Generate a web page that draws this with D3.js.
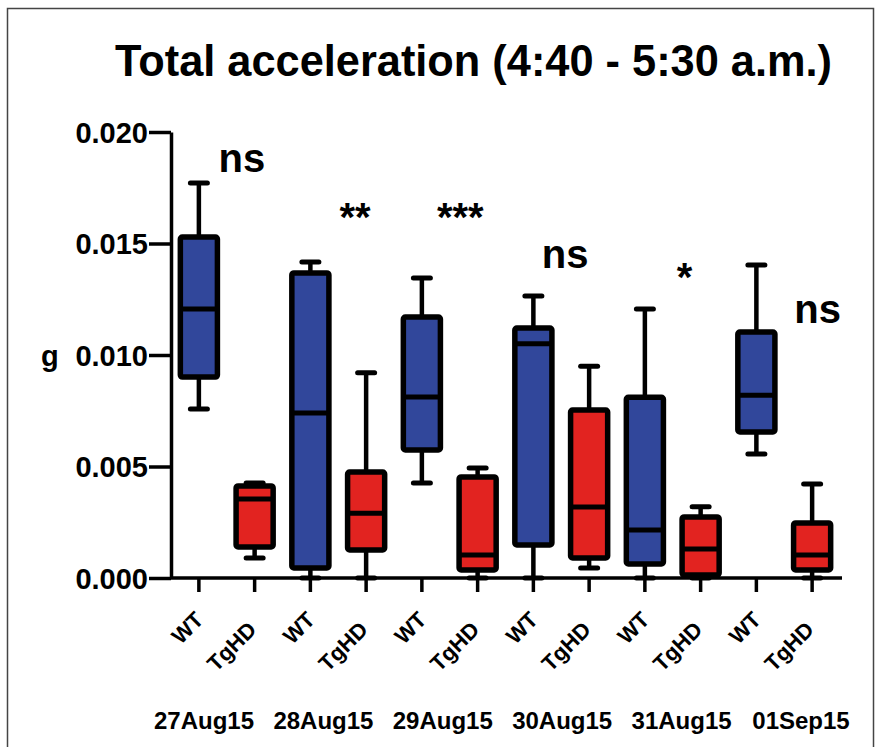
<!DOCTYPE html>
<html>
<head>
<meta charset="utf-8">
<script src="https://cdn.jsdelivr.net/npm/d3@7/dist/d3.min.js"></script>
<style>
  body { margin: 0; background: #fff; }
  svg text { font-family: "Liberation Sans", Arial, sans-serif; font-weight: bold; fill: #000; }
</style>
</head>
<body>
<div id="chart"></div>
<script>
// Days and groups
const dates = ["27Aug15", "28Aug15", "29Aug15", "30Aug15", "31Aug15", "01Sep15"];
const genotypes = ["WT", "TgHD"];

// Box plot summaries (g), one value per day
const wtMin    = [0.00758, 0.0000, 0.00426, 0.0000, 0.0000, 0.00556];
const wtQ1     = [0.00901, 0.00045, 0.00574, 0.00148, 0.00063, 0.00655];
const wtMedian = [0.01206, 0.00740, 0.00812, 0.01050, 0.00215, 0.00820];
const wtQ3     = [0.01529, 0.01368, 0.01170, 0.01121, 0.00810, 0.01103];
const wtMax    = [0.01771, 0.01417, 0.01345, 0.01265, 0.01206, 0.01404];

const tgMin    = [0.00090, 0.0000, 0.0000, 0.00045, 0.0000, 0.0000];
const tgQ1     = [0.00139, 0.00126, 0.00036, 0.00090, 0.00013, 0.00036];
const tgMedian = [0.00354, 0.00290, 0.00103, 0.00318, 0.00130, 0.00103];
const tgQ3     = [0.00413, 0.00475, 0.00453, 0.00753, 0.00274, 0.00247];
const tgMax    = [0.00426, 0.00920, 0.00493, 0.00950, 0.00320, 0.00422];

// Significance marks, their height (g) and slot position along the x axis
const sigLabels = ["ns", "**", "***", "ns", "*", "ns"];
const sigHeights = [0.01821, 0.01556, 0.01556, 0.01390, 0.01287, 0.01143];
const sigSlots = [0.77, 2.8, 4.69, 6.57, 8.71, 11.1];

const yTicks = [0, 0.005, 0.010, 0.015, 0.020];

const colors = { WT: "#31479b", TgHD: "#e22320" };

// build rows
const rows = [];
dates.forEach((d, i) => {
  rows.push({ key: d + "|WT", date: d, geno: "WT", min: wtMin[i], q1: wtQ1[i], med: wtMedian[i], q3: wtQ3[i], max: wtMax[i] });
  rows.push({ key: d + "|TgHD", date: d, geno: "TgHD", min: tgMin[i], q1: tgQ1[i], med: tgMedian[i], q3: tgQ3[i], max: tgMax[i] });
});

const W = 882, H = 747;
const svg = d3.select("#chart").append("svg").attr("width", W).attr("height", H);

// frame
svg.append("rect")
  .attr("x", 7.5).attr("y", 8.5)
  .attr("width", 866).attr("height", 760)
  .attr("fill", "none").attr("stroke", "#444").attr("stroke-width", 1.5);

// title
svg.append("text")
  .attr("x", 115).attr("y", 76)
  .attr("textLength", 717).attr("lengthAdjust", "spacingAndGlyphs")
  .style("font-family", "'Liberation Sans Narrow', 'Liberation Sans', Arial, sans-serif")
  .style("font-size", "45px")
  .text("Total acceleration (4:40 - 5:30 a.m.)");

const y = d3.scaleLinear().domain([0, 0.02]).range([578, 132]);
const x = d3.scaleBand().domain(rows.map(r => r.key)).range([171, 840]).padding(0);
const bw = x.bandwidth();
const boxW = bw * 0.665;
const capW = 17;
const cx = r => x(r.key) + bw / 2;

// y axis
const yAxis = svg.append("g")
  .attr("transform", "translate(171,0)")
  .call(d3.axisLeft(y).tickValues(yTicks).tickFormat(d3.format(".3f")).tickSize(22).tickSizeOuter(0).tickPadding(1));
yAxis.select(".domain").attr("stroke", "#000").attr("stroke-width", 3.5);
yAxis.selectAll(".tick line").attr("stroke", "#000").attr("stroke-width", 3.5);
yAxis.selectAll(".tick text").style("font-size", "29px").attr("dy", "0.36em");

// y axis title
svg.append("text")
  .attr("x", 41).attr("y", 366)
  .style("font-size", "29px")
  .text("g");

// x axis
const xAxis = svg.append("g")
  .attr("transform", "translate(0,578)")
  .call(d3.axisBottom(x).tickSize(14).tickSizeOuter(0).tickFormat(""));
xAxis.select(".domain").attr("stroke", "#000").attr("stroke-width", 3.5)
  .attr("d", "M171,0H842");
xAxis.selectAll(".tick line").attr("stroke", "#000").attr("stroke-width", 3.5);

// rotated genotype labels
const labelOff = { WT: [6, 621], TgHD: [3, 631] };
svg.selectAll(".geno-label")
  .data(rows)
  .enter()
  .append("text")
  .attr("class", "geno-label")
  .attr("text-anchor", "end")
  .attr("transform", r => `translate(${cx(r) + labelOff[r.geno][0]},${labelOff[r.geno][1]}) rotate(-45)`)
  .style("font-size", "22px")
  .text(r => r.geno);

// date labels
const xd = d3.scalePoint().domain(dates).range([204, 801]);
svg.selectAll(".date-label")
  .data(dates)
  .enter()
  .append("text")
  .attr("class", "date-label")
  .attr("x", d => xd(d))
  .attr("y", 729)
  .attr("text-anchor", "middle")
  .style("font-size", "24px")
  .text(d => d);

// boxes
const g = svg.append("g").attr("class", "boxes");
const box = g.selectAll(".box").data(rows).enter().append("g").attr("class", "box");

// whiskers
box.append("line")
  .attr("x1", cx).attr("x2", cx)
  .attr("y1", r => y(r.max)).attr("y2", r => y(r.q3))
  .attr("stroke", "#000").attr("stroke-width", 4.5);
box.append("line")
  .attr("x1", cx).attr("x2", cx)
  .attr("y1", r => y(r.q1)).attr("y2", r => y(r.min))
  .attr("stroke", "#000").attr("stroke-width", 4.5);
// caps
box.append("line")
  .attr("x1", r => cx(r) - capW / 2).attr("x2", r => cx(r) + capW / 2)
  .attr("y1", r => y(r.max)).attr("y2", r => y(r.max))
  .attr("stroke", "#000").attr("stroke-width", 5).attr("stroke-linecap", "round");
box.append("line")
  .attr("x1", r => cx(r) - capW / 2).attr("x2", r => cx(r) + capW / 2)
  .attr("y1", r => y(r.min)).attr("y2", r => y(r.min))
  .attr("stroke", "#000").attr("stroke-width", 5).attr("stroke-linecap", "round");
// box body
box.append("rect")
  .attr("x", r => cx(r) - boxW / 2)
  .attr("y", r => y(r.q3))
  .attr("width", boxW)
  .attr("height", r => y(r.q1) - y(r.q3))
  .attr("rx", 2)
  .attr("fill", r => colors[r.geno])
  .attr("stroke", "#000").attr("stroke-width", 5.5);
// median
box.append("line")
  .attr("x1", r => cx(r) - boxW / 2).attr("x2", r => cx(r) + boxW / 2)
  .attr("y1", r => y(r.med)).attr("y2", r => y(r.med))
  .attr("stroke", "#000").attr("stroke-width", 5);

// significance marks
const slotX = d3.scaleLinear().domain([0, 1]).range([cx(rows[0]), cx(rows[1])]);
svg.selectAll(".sig")
  .data(sigLabels)
  .enter()
  .append("text")
  .attr("class", "sig")
  .attr("x", (s, i) => slotX(sigSlots[i]))
  .attr("y", (s, i) => y(sigHeights[i]))
  .attr("text-anchor", "middle")
  .style("font-size", "40px")
  .text(s => s);
</script>
</body>
</html>
